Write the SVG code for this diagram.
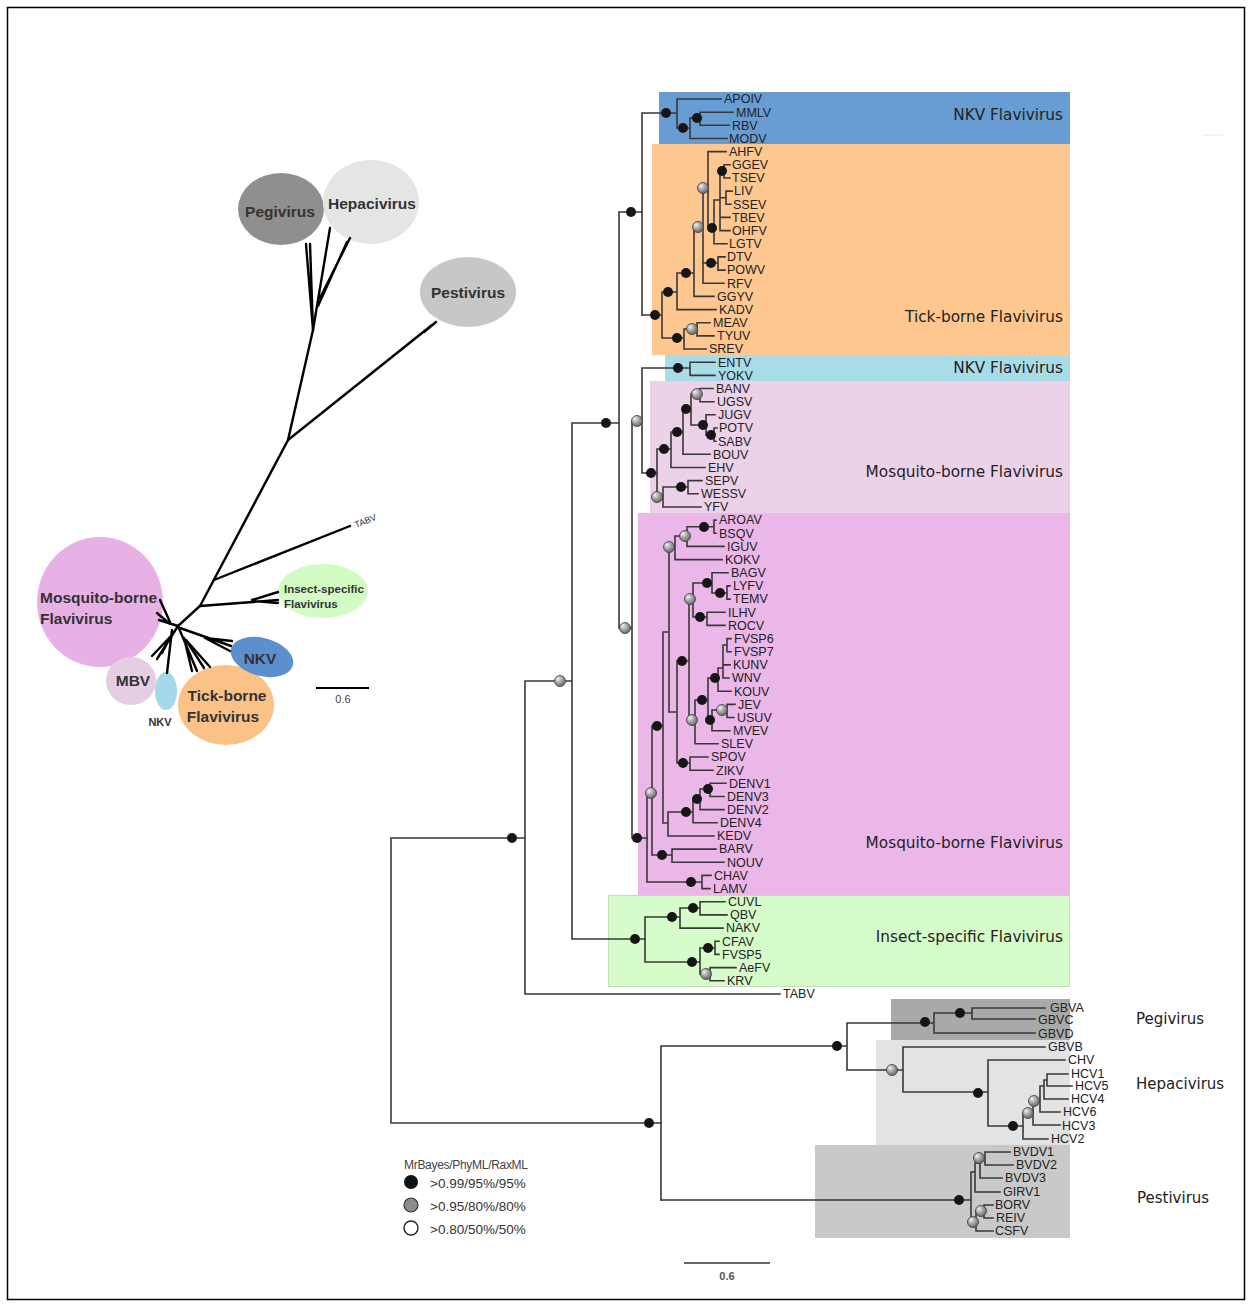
<svg xmlns="http://www.w3.org/2000/svg" width="1250" height="1306" viewBox="0 0 1250 1306">
<defs>
<radialGradient id="gg" cx="40%" cy="35%" r="65%" fx="30%" fy="30%">
<stop offset="0" stop-color="#f2f2f2"/><stop offset="0.6" stop-color="#9a9a9a"/><stop offset="1" stop-color="#6a6a6a"/>
</radialGradient>
<style>
.br{fill:none;stroke:#383838;stroke-width:1.6;stroke-linecap:square}
.tip{font-family:"Liberation Sans",Arial,sans-serif;font-size:12.5px;fill:#222}
.clade{font-family:"DejaVu Sans",Verdana,sans-serif;font-size:15.3px;fill:#222;text-anchor:end}
.grp{font-family:"DejaVu Sans",Verdana,sans-serif;font-size:15px;fill:#222}
.b{fill:#161616}
.g{fill:url(#gg);stroke:#3a3a3a;stroke-width:0.8}
.ul{fill:none;stroke:#000;stroke-width:2.4;stroke-linecap:round}
.lt{font-family:"Liberation Sans",Arial,sans-serif;font-weight:bold;fill:#333;font-size:15.5px}
.ltc{font-family:"Liberation Sans",Arial,sans-serif;font-weight:bold;fill:#333;font-size:15.5px;text-anchor:middle}
</style>
</defs>
<rect x="0" y="0" width="1250" height="1306" fill="#fff"/>
<rect x="7.5" y="7.5" width="1237" height="1292" fill="none" stroke="#000" stroke-width="1.5"/>
<line x1="1203" y1="135" x2="1223" y2="135" stroke="#e6e6e6" stroke-width="1"/>

<!-- clade boxes -->
<g id="boxes">
<rect id="box-nkv1" x="659" y="92" width="411" height="52" fill="#679dd3"/>
<rect id="box-tick" x="652" y="144" width="418" height="211" fill="#fdc78f"/>
<rect id="box-nkv2" x="665" y="355" width="405" height="26" fill="#a9dce9"/>
<rect id="box-mbv" x="650" y="381" width="420" height="132" fill="#ecd2e8"/>
<rect id="box-mosq" x="638" y="513" width="432" height="382" fill="#ebb7e9"/>
<rect id="box-insect" x="608.5" y="895.5" width="461" height="91" fill="#d6fcca" stroke="#c4dcb8" stroke-width="1"/>
<rect id="box-pegi" x="891" y="999" width="179" height="41" fill="#a9a9a9"/>
<rect id="box-hepaci" x="876" y="1040" width="194" height="105" fill="#e3e3e3"/>
<rect id="box-pesti" x="815" y="1145" width="255" height="93" fill="#c9c9c9"/>
</g>

<g id="clade-labels">
<text class="clade" x="1063" y="120">NKV Flavivirus</text>
<text class="clade" x="1063" y="322">Tick-borne Flavivirus</text>
<text class="clade" x="1063" y="373">NKV Flavivirus</text>
<text class="clade" x="1063" y="477">Mosquito-borne Flavivirus</text>
<text class="clade" x="1063" y="848">Mosquito-borne Flavivirus</text>
<text class="clade" x="1063" y="942">Insect-specific Flavivirus</text>
<text class="grp" x="1136" y="1024">Pegivirus</text>
<text class="grp" x="1136" y="1089">Hepacivirus</text>
<text class="grp" x="1137" y="1203">Pestivirus</text>
</g>

<!-- connectors -->
<g id="connectors" class="br">
<path id="backbone" d="M391 838V1123M391 838H525M391 1123H661M525 681V994M525 994H780M525 681H572M572 423V939M572 423H619M572 939H645M619 212V628M619 212H642M619 628H632M632 421V838M632 421H642M632 838H647"/>
<path id="nkv1" d="M642 113V315M642 113H677M677 99V128M677 99H721M677 128H690M690 118V138.5M690 138.5H727M690 118H700M700 112.2V125.3M700 112.2H733M700 125.3H729"/>
<path id="tick" d="M642 315H662M662 292V338M662 292H677M677 273V309.6M677 309.6H716M677 273H694M694 227V296.4M694 296.4H714M694 227H703M703 188V283.2M703 283.2H724M703 263H718M718 256.9V270.1M718 256.9H725M718 270.1H725M703 188H708M708 151.6V228M708 151.6H726M708 228H714M714 200V243.8M714 243.8H727M714 200H720M720 171V230.6M720 230.6H730M720 217.4H730M720 171H724M724 164.8V178M724 164.8H730M724 178H730M720 197.7H726M726 191.1V204.3M726 191.1H732M726 204.3H731M662 338H684M684 329V349M684 349H706M684 329H697M697 322.7V335.9M697 322.7H710M697 335.9H714"/>
<path id="nkv2-mbv" d="M642 368V473M642 368H690M690 362.2V375.4M690 362.2H715M690 375.4H715M642 473H657M657 449V497M657 449H671M671 432V467.5M671 467.5H705M671 432H683M683 409V454.3M683 454.3H710M683 409H691M691 394V425M691 394H700M700 388.5V401.7M700 388.5H713M700 401.7H714M691 425H706M706 414.8V435M706 414.8H715M706 435H714M714 428V441.2M714 428H717M714 441.2H716M657 497H663M663 487V507M663 507H701M663 487H688M688 480.6V493.8M688 480.6H702M688 493.8H698"/>
<path id="mosquito" d="M647 793V882M647 882H702M702 875.4V888.6M702 875.4H711M702 888.6H710M647 793H652M652 726V855M652 855H672M672 849.1V862.3M672 849.1H716M672 862.3H724M652 726H663M663 632V823M663 823H668M668 812V836M668 836H714M668 812H693M693 799V822.8M693 822.8H717M693 799H700M700 789V809.6M700 809.6H724M700 789H710M710 783.3V796.5M710 783.3H726M710 796.5H724M663 632H669M669 547V712M669 547H675M675 536V559.6M675 559.6H722M675 536H687M687 526.7V546.4M687 546.4H724M687 526.7H714M714 520.1V533.3M714 520.1H716M714 533.3H716M669 712H677M677 661V763M677 763H690M690 757V770.2M690 757H708M690 770.2H713M677 661H689M689 599V720M689 599H693M693 583V617M693 583H712M712 572.8V593M712 572.8H728M712 593H727M727 585.9V599.1M727 585.9H730M727 599.1H730M693 617H707M707 612.2V625.4M707 612.2H725M707 625.4H725M689 720H695M695 700V743.8M695 743.8H718M695 700H708M708 678V720M708 678H718M718 668V691.2M718 691.2H731M718 668H723M723 645V678M723 678H729M723 664.9H730M723 645H727M727 638.6V651.7M727 638.6H731M727 651.7H731M708 720H712M712 710V730.7M712 730.7H730M712 710H727M727 704.4V717.5M727 704.4H735M727 717.5H734"/>
<path id="insect" d="M645 917V962M645 917H680M680 908V928.1M680 928.1H723M680 908H700M700 901.8V914.9M700 901.8H725M700 914.9H727M645 962H700M700 948V974M700 948H715M715 941.2V954.4M715 941.2H719M715 954.4H719M700 974H710M710 967.6V980.7M710 967.6H736M710 980.7H724"/>
<path id="pegi-hepaci" d="M661 1046V1200M661 1046H847M847 1023V1070M847 1023H934M934 1013V1033M934 1033H1035M934 1013H972M972 1008V1019M972 1008H1045M972 1019H1035M847 1070H903M903 1047V1092M903 1047H1045M903 1092H988M988 1060V1126M988 1060H1065M988 1126H1023M1023 1113V1139M1023 1139H1048M1023 1113H1033M1033 1102V1125M1033 1125H1060M1033 1102H1040M1040 1086V1112M1040 1112H1060M1040 1086H1044M1044 1080V1099M1044 1099H1068M1044 1080H1047M1047 1074V1086M1047 1074H1068M1047 1086H1072"/>
<path id="pesti" d="M661 1200H971M971 1172V1222M971 1172H975M975 1163V1192M975 1192H1000M975 1163H980M980 1158V1178M980 1178H1002M980 1158H985M985 1152V1165M985 1152H1010M985 1165H1013M971 1222H976M976 1211V1231M976 1231H993M976 1211H984M984 1205V1218M984 1205H993M984 1218H993"/>
</g>

<!-- support dots -->
<g id="support-nodes">
<circle class="b" cx="512" cy="838" r="5"/><circle class="b" cx="649" cy="1123" r="5"/><circle class="g" cx="560" cy="681" r="5.5"/><circle class="b" cx="606" cy="423" r="5"/><circle class="b" cx="635" cy="939" r="5"/><circle class="g" cx="625" cy="628" r="5.5"/><circle class="g" cx="637" cy="421" r="5.5"/><circle class="b" cx="637" cy="838" r="5"/><circle class="b" cx="631" cy="212" r="5"/>
<circle class="b" cx="666" cy="113" r="5"/><circle class="b" cx="683" cy="128" r="5"/><circle class="b" cx="697" cy="118" r="5"/>
<circle class="b" cx="655" cy="315" r="5"/><circle class="b" cx="668" cy="292" r="5"/><circle class="b" cx="686" cy="273" r="5"/><circle class="g" cx="698" cy="227" r="5.5"/><circle class="b" cx="711" cy="263" r="5"/><circle class="g" cx="703" cy="188" r="5.5"/><circle class="b" cx="712" cy="228" r="5"/><circle class="b" cx="722" cy="171" r="5"/><circle class="b" cx="677" cy="338" r="5"/><circle class="g" cx="692" cy="329" r="5.5"/>
<circle class="b" cx="678" cy="368" r="5"/><circle class="b" cx="651" cy="473" r="5"/><circle class="b" cx="664" cy="449" r="5"/><circle class="b" cx="677" cy="432" r="5"/><circle class="b" cx="686" cy="409" r="5"/><circle class="g" cx="697" cy="394" r="5.5"/><circle class="b" cx="703" cy="425" r="5"/><circle class="b" cx="711" cy="435" r="5"/><circle class="g" cx="657" cy="497" r="5.5"/><circle class="b" cx="681" cy="487" r="5"/>
<circle class="b" cx="691" cy="882" r="5"/><circle class="g" cx="651" cy="793" r="5.5"/><circle class="b" cx="662" cy="855" r="5"/><circle class="b" cx="657" cy="726" r="5"/><circle class="b" cx="686" cy="812" r="5"/><circle class="b" cx="697" cy="799" r="5"/><circle class="b" cx="708" cy="789" r="5"/><circle class="g" cx="669" cy="547" r="5.5"/><circle class="g" cx="685" cy="536" r="5.5"/><circle class="b" cx="704" cy="527" r="5"/><circle class="b" cx="682" cy="661" r="5"/><circle class="b" cx="683" cy="763" r="5"/><circle class="g" cx="690" cy="599" r="5.5"/><circle class="b" cx="707" cy="583" r="5"/><circle class="b" cx="720" cy="593" r="5"/><circle class="b" cx="700" cy="617" r="5"/><circle class="g" cx="692" cy="720" r="5.5"/><circle class="b" cx="702" cy="700" r="5"/><circle class="b" cx="715" cy="678" r="5"/><circle class="b" cx="710" cy="720" r="5"/><circle class="g" cx="722" cy="710" r="5.5"/>
<circle class="b" cx="672" cy="917" r="5"/><circle class="b" cx="693" cy="908" r="5"/><circle class="b" cx="692" cy="962" r="5"/><circle class="b" cx="708" cy="948" r="5"/><circle class="g" cx="706" cy="974" r="5.5"/>
<circle class="b" cx="837" cy="1046" r="5"/><circle class="b" cx="925" cy="1022" r="5"/><circle class="b" cx="960" cy="1013" r="5"/><circle class="g" cx="892" cy="1070" r="5.5"/><circle class="b" cx="978" cy="1093" r="5"/><circle class="b" cx="1013" cy="1126" r="5"/><circle class="g" cx="1028" cy="1113" r="5.5"/><circle class="g" cx="1034" cy="1101" r="5.5"/>
<circle class="b" cx="959" cy="1200" r="5"/><circle class="g" cx="979" cy="1158" r="5.5"/><circle class="g" cx="981" cy="1211" r="5.5"/><circle class="g" cx="973" cy="1222" r="5.5"/>
</g>

<!-- tip labels -->
<g id="tips" class="tip">
<text id="t-APOIV" x="724" y="103.3">APOIV</text>
<text id="t-MMLV" x="736" y="116.5">MMLV</text>
<text id="t-RBV" x="732" y="129.6">RBV</text>
<text id="t-MODV" x="729" y="142.8">MODV</text>
<text id="t-AHFV" x="729" y="155.9">AHFV</text>
<text id="t-GGEV" x="732" y="169.1">GGEV</text>
<text id="t-TSEV" x="732" y="182.3">TSEV</text>
<text id="t-LIV" x="734" y="195.4">LIV</text>
<text id="t-SSEV" x="733" y="208.6">SSEV</text>
<text id="t-TBEV" x="732" y="221.7">TBEV</text>
<text id="t-OHFV" x="732" y="234.9">OHFV</text>
<text id="t-LGTV" x="729" y="248.1">LGTV</text>
<text id="t-DTV" x="727" y="261.2">DTV</text>
<text id="t-POWV" x="727" y="274.4">POWV</text>
<text id="t-RFV" x="727" y="287.5">RFV</text>
<text id="t-GGYV" x="717" y="300.7">GGYV</text>
<text id="t-KADV" x="719" y="313.9">KADV</text>
<text id="t-MEAV" x="713" y="327">MEAV</text>
<text id="t-TYUV" x="717" y="340.2">TYUV</text>
<text id="t-SREV" x="709" y="353.3">SREV</text>
<text id="t-ENTV" x="718" y="366.5">ENTV</text>
<text id="t-YOKV" x="718" y="379.7">YOKV</text>
<text id="t-BANV" x="716" y="392.8">BANV</text>
<text id="t-UGSV" x="717" y="406">UGSV</text>
<text id="t-JUGV" x="718" y="419.1">JUGV</text>
<text id="t-POTV" x="719" y="432.3">POTV</text>
<text id="t-SABV" x="718" y="445.5">SABV</text>
<text id="t-BOUV" x="713" y="458.6">BOUV</text>
<text id="t-EHV" x="708" y="471.8">EHV</text>
<text id="t-SEPV" x="705" y="484.9">SEPV</text>
<text id="t-WESSV" x="701" y="498.1">WESSV</text>
<text id="t-YFV" x="704" y="511.3">YFV</text>
<text id="t-AROAV" x="719" y="524.4">AROAV</text>
<text id="t-BSQV" x="719" y="537.6">BSQV</text>
<text id="t-IGUV" x="727" y="550.7">IGUV</text>
<text id="t-KOKV" x="725" y="563.9">KOKV</text>
<text id="t-BAGV" x="731" y="577.1">BAGV</text>
<text id="t-LYFV" x="733" y="590.2">LYFV</text>
<text id="t-TEMV" x="733" y="603.4">TEMV</text>
<text id="t-ILHV" x="728" y="616.5">ILHV</text>
<text id="t-ROCV" x="728" y="629.7">ROCV</text>
<text id="t-FVSP6" x="734" y="642.9">FVSP6</text>
<text id="t-FVSP7" x="734" y="656">FVSP7</text>
<text id="t-KUNV" x="733" y="669.2">KUNV</text>
<text id="t-WNV" x="732" y="682.3">WNV</text>
<text id="t-KOUV" x="734" y="695.5">KOUV</text>
<text id="t-JEV" x="738" y="708.7">JEV</text>
<text id="t-USUV" x="737" y="721.8">USUV</text>
<text id="t-MVEV" x="733" y="735">MVEV</text>
<text id="t-SLEV" x="721" y="748.1">SLEV</text>
<text id="t-SPOV" x="711" y="761.3">SPOV</text>
<text id="t-ZIKV" x="716" y="774.5">ZIKV</text>
<text id="t-DENV1" x="729" y="787.6">DENV1</text>
<text id="t-DENV3" x="727" y="800.8">DENV3</text>
<text id="t-DENV2" x="727" y="813.9">DENV2</text>
<text id="t-DENV4" x="720" y="827.1">DENV4</text>
<text id="t-KEDV" x="717" y="840.3">KEDV</text>
<text id="t-BARV" x="719" y="853.4">BARV</text>
<text id="t-NOUV" x="727" y="866.6">NOUV</text>
<text id="t-CHAV" x="714" y="879.7">CHAV</text>
<text id="t-LAMV" x="713" y="892.9">LAMV</text>
<text id="t-CUVL" x="728" y="906.1">CUVL</text>
<text id="t-QBV" x="730" y="919.2">QBV</text>
<text id="t-NAKV" x="726" y="932.4">NAKV</text>
<text id="t-CFAV" x="722" y="945.5">CFAV</text>
<text id="t-FVSP5" x="722" y="958.7">FVSP5</text>
<text id="t-AeFV" x="739" y="971.9">AeFV</text>
<text id="t-KRV" x="727" y="985">KRV</text>
<text id="t-TABV" x="783" y="998.2">TABV</text>
<text id="t-GBVA" x="1050" y="1012.3">GBVA</text>
<text id="t-GBVC" x="1038" y="1024.3">GBVC</text>
<text id="t-GBVD" x="1038" y="1038.3">GBVD</text>
<text id="t-GBVB" x="1048" y="1051.3">GBVB</text>
<text id="t-CHV" x="1068" y="1064.3">CHV</text>
<text id="t-HCV1" x="1071" y="1078.3">HCV1</text>
<text id="t-HCV5" x="1075" y="1090.3">HCV5</text>
<text id="t-HCV4" x="1071" y="1103.3">HCV4</text>
<text id="t-HCV6" x="1063" y="1116.3">HCV6</text>
<text id="t-HCV3" x="1062" y="1130.3">HCV3</text>
<text id="t-HCV2" x="1051" y="1143.3">HCV2</text>
<text id="t-BVDV1" x="1013" y="1156.3">BVDV1</text>
<text id="t-BVDV2" x="1016" y="1169.3">BVDV2</text>
<text id="t-BVDV3" x="1005" y="1182.3">BVDV3</text>
<text id="t-GIRV1" x="1003" y="1196.3">GIRV1</text>
<text id="t-BORV" x="995" y="1209.3">BORV</text>
<text id="t-REIV" x="996" y="1222.3">REIV</text>
<text id="t-CSFV" x="995" y="1235.3">CSFV</text>
</g>

<!-- unrooted tree -->
<g id="unrooted">
<g id="u-ellipses">
<ellipse id="u-pegi" cx="281" cy="209" rx="43" ry="36" fill="#8f8f8f"/>
<ellipse id="u-hepaci" cx="371" cy="202" rx="48" ry="42" fill="#e5e5e5"/>
<ellipse id="u-pesti" cx="468" cy="292" rx="48" ry="35" fill="#c7c7c7"/>
<ellipse id="u-mosq" cx="100" cy="602" rx="63" ry="65" fill="#e8b1e6"/>
<ellipse id="u-mbv" cx="131" cy="681" rx="25" ry="24" fill="#e5cde3"/>
<ellipse id="u-nkvs" cx="166" cy="691" rx="11" ry="19" fill="#a5d9ea"/>
<ellipse id="u-tick" cx="226" cy="705" rx="48" ry="40" fill="#fbc287"/>
<ellipse id="u-nkv" cx="262" cy="657" rx="32" ry="19" fill="#5c8fd0" transform="rotate(15 262 657)"/>
<ellipse id="u-insect" cx="323" cy="591" rx="45" ry="27" fill="#d2fcc3"/>
</g>
<g id="u-branches" class="ul">
<path d="M178 626L200 606L288 440L313 330"/>
<path d="M313 330L306 244M313 330L310 244"/>
<path d="M313 330L330 228M318 306L347 242M320 298L350 238"/>
<path d="M288 440L432 325M424 332L436 322"/>
<path d="M214 580L350 526"/>
<path d="M200 606L278 600M252 600L278 592M252 601L278 603"/>
<path d="M178 626L159 620M170 622L160 600M170 624L157 613"/>
<path d="M178 626L157 659M171 636L152 656M171 636L162 653"/>
<path d="M172 630L167 673"/>
<path d="M178 626L197 671M184 638L192 671M186 640L204 668M186 640L210 667"/>
<path d="M180 628L231 646M205 638L232 641M205 638L230 651"/>
</g>
<g id="u-labels">
<text class="ltc" x="280" y="217">Pegivirus</text>
<text class="ltc" x="372" y="209">Hepacivirus</text>
<text class="ltc" x="468" y="298">Pestivirus</text>
<text class="lt" x="40" y="603">Mosquito-borne</text>
<text class="lt" x="40" y="624">Flavivirus</text>
<text class="ltc" x="133" y="686">MBV</text>
<text class="ltc" x="160" y="726" style="font-size:11px">NKV</text>
<text class="ltc" x="227" y="701">Tick-borne</text>
<text class="ltc" x="223" y="722">Flavivirus</text>
<text class="ltc" x="260" y="664">NKV</text>
<text class="lt" x="284" y="593" style="font-size:11.5px">Insect-specific</text>
<text class="lt" x="284" y="608" style="font-size:11.5px">Flavivirus</text>
<text x="356" y="528" transform="rotate(-22 356 528)" font-family="Liberation Sans, Arial, sans-serif" font-size="9" fill="#333">TABV</text>
<line x1="316" y1="688" x2="369" y2="688" stroke="#000" stroke-width="2"/>
<text x="343" y="703" text-anchor="middle" font-family="Liberation Sans, Arial, sans-serif" font-size="11" fill="#444">0.6</text>
</g>
</g>

<!-- legend -->
<g id="legend" font-family="Liberation Sans, Arial, sans-serif">
<text x="404" y="1169" font-size="12" fill="#444" letter-spacing="-0.3">MrBayes/PhyML/RaxML</text>
<circle cx="411" cy="1182" r="7" fill="#111"/>
<circle cx="411" cy="1205" r="7" fill="#8c8c8c" stroke="#333" stroke-width="1.2"/>
<circle cx="411" cy="1228" r="7" fill="#fff" stroke="#222" stroke-width="1.4"/>
<text x="430" y="1188" font-size="13.5" fill="#333">&gt;0.99/95%/95%</text>
<text x="430" y="1211" font-size="13.5" fill="#333">&gt;0.95/80%/80%</text>
<text x="430" y="1234" font-size="13.5" fill="#333">&gt;0.80/50%/50%</text>
</g>

<g id="scalebar">
<line x1="684" y1="1263" x2="770" y2="1263" stroke="#333" stroke-width="1.5"/>
<text x="727" y="1280" text-anchor="middle" font-family="Liberation Sans, Arial, sans-serif" font-size="11" font-weight="bold" fill="#555">0.6</text>
</g>
</svg>
